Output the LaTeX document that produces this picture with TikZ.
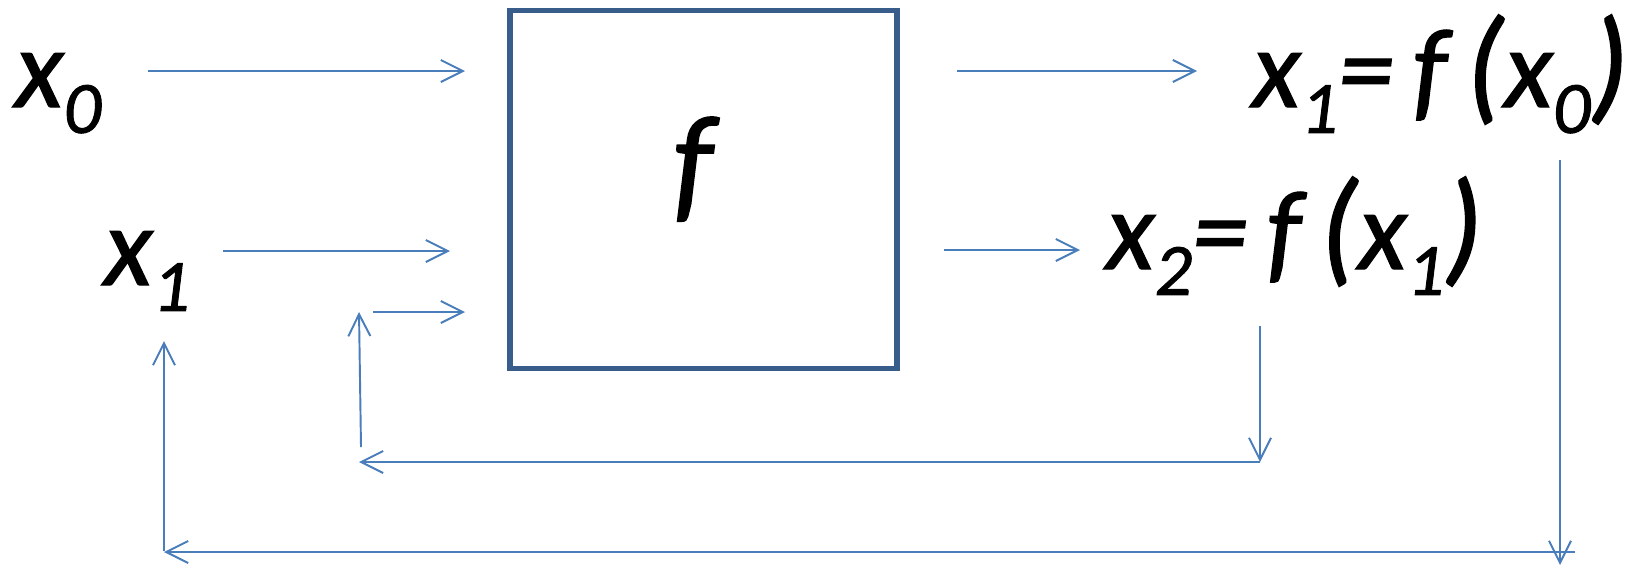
\documentclass[tikz,border=0pt]{standalone}
\usepackage{fontspec}
\setmainfont{Carlito}[ItalicFeatures={FakeBold=1.2}]
\usetikzlibrary{arrows.meta}
\definecolor{arrowblue}{HTML}{4A7EBB}
\definecolor{boxblue}{HTML}{385D8A}
\newcommand{\sbs}[1]{\raisebox{-14.7pt}{\fontsize{42}{46}\selectfont #1}}
\newcommand{\lpar}{{\fontsize{72}{78}\selectfont(}}
\newcommand{\rpar}{{\fontsize{72}{78}\selectfont)}}
\tikzset{
  lbl/.style={inner sep=0pt, outer sep=0pt, font=\fontsize{64}{70}\selectfont\itshape},
  conn/.style={draw=arrowblue, line width=1.1pt, -{Straight Barb[length=0.44cm, width=0.44cm, line width=1.1pt]}},
  fbox/.style={draw=boxblue, line width=3pt, minimum width=7.74cm, minimum height=7.16cm, inner sep=0pt}
}
\begin{document}
\begin{tikzpicture}[x=0.02cm, y=-0.02cm]
\useasboundingbox (0,0) rectangle (1635,566);
% box
\node[fbox] (box) at (703.5,189.5) {};
\node[lbl, anchor=base, font=\fontsize{74}{80}\selectfont\itshape] (flbl) at (693,206) {f};
% labels
\node[lbl, anchor=base west] (x0) at (15,107) {x\sbs{0}};
\node[lbl, anchor=base west] (x1) at (104,285) {x\sbs{1}};
\node[lbl, anchor=base west] (out1) at (1252,107) {x\sbs{1}=\,f\,\lpar x\sbs{0}\rpar};
\node[lbl, anchor=base west] (out2) at (1106,269) {x\sbs{2}=\,f\,\lpar x\sbs{1}\rpar};
% arrow end points
\coordinate (a0s) at (148,71);   \coordinate (a0e) at (465,71);
\coordinate (a1s) at (223,251);  \coordinate (a1e) at (450,251);
\coordinate (a2s) at (373,312);  \coordinate (a2e) at (465,312);
\coordinate (r1s) at (957,71);   \coordinate (r1e) at (1197,71);
\coordinate (r2s) at (944,250);  \coordinate (r2e) at (1080,250);
\coordinate (d2s) at (1260,326); \coordinate (d2e) at (1260,462);
\coordinate (m2e) at (359,462);
\coordinate (u2s) at (361,447);  \coordinate (u2e) at (359,312);
\coordinate (d1s) at (1560,160); \coordinate (d1e) at (1560,565);
\coordinate (b1s) at (1575,552); \coordinate (b1e) at (164,552);
\coordinate (u1s) at (164,551);  \coordinate (u1e) at (164,341);
% connectors
\draw[conn] (a0s) -- (a0e);
\draw[conn] (a1s) -- (a1e);
\draw[conn] (a2s) -- (a2e);
\draw[conn] (r1s) -- (r1e);
\draw[conn] (r2s) -- (r2e);
\draw[conn] (d2s) -- (d2e);
\draw[conn] (d2e) -- (m2e);
\draw[conn] (u2s) -- (u2e);
\draw[conn] (d1s) -- (d1e);
\draw[conn] (b1s) -- (b1e);
\draw[conn] (u1s) -- (u1e);
\end{tikzpicture}
\end{document}
